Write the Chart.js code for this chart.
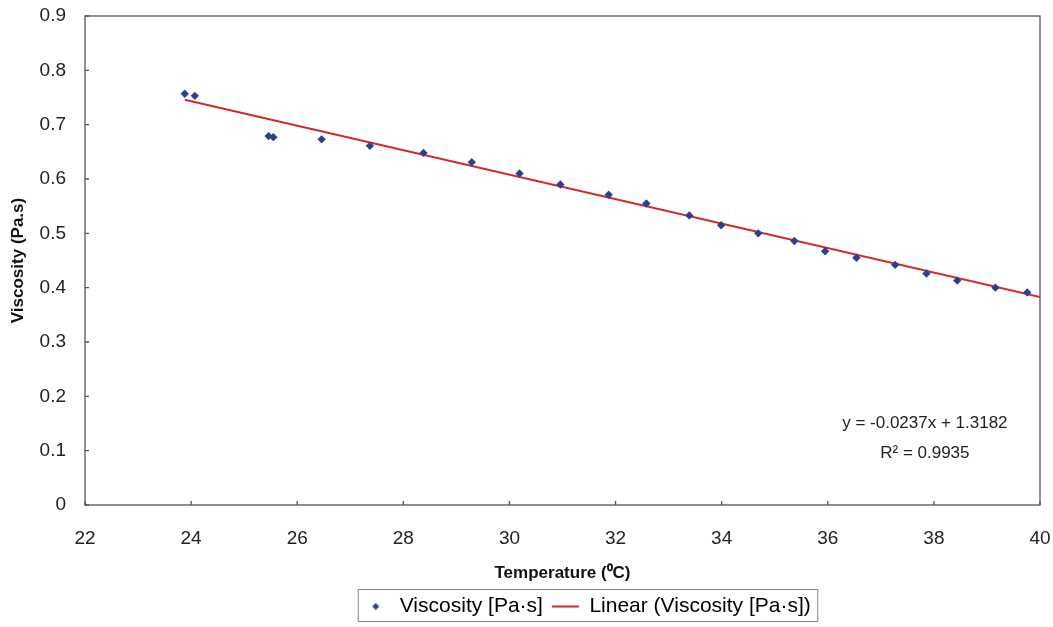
<!DOCTYPE html>
<html>
<head>
<meta charset="utf-8">
<script src="https://cdn.jsdelivr.net/npm/chart.js@4"></script>
<style>
    html, body { margin: 0; padding: 0; background: #fff; }
    #wrap { width: 1053px; height: 627px; }
</style>
</head>
<body>
<div id="wrap"><canvas id="viscChart" width="1053" height="627"></canvas></div>
<script>
// values
const temperature = [23.88, 24.07, 25.46, 25.55, 26.46, 27.37, 28.38, 29.29, 30.19, 30.96, 31.87, 32.58,
                     33.39, 33.99, 34.69, 35.37, 35.95, 36.54, 37.27, 37.86, 38.44, 39.16, 39.76];
const viscosity = [0.757, 0.753, 0.679, 0.677, 0.673, 0.661, 0.648, 0.631, 0.610, 0.590, 0.571, 0.555,
                   0.533, 0.515, 0.500, 0.486, 0.467, 0.455, 0.442, 0.426, 0.413, 0.400, 0.391];

// trendline ends as drawn in the picture
const trendX = [23.88, 40];
const trendY = [0.746, 0.383];

const equationText = ['y = -0.0237x + 1.3182', 'R² = 0.9935'];
const equationAt = { x: 37.83, y: 0.150 };

const xTicks = [22, 24, 26, 28, 30, 32, 34, 36, 38, 40];
const yTicks = [0, 0.1, 0.2, 0.3, 0.4, 0.5, 0.6, 0.7, 0.8, 0.9];

const seriesName = 'Viscosity [Pa·s]';
const trendName = 'Linear (Viscosity [Pa·s])';

const pointColor = '#2f3f8f';
const lineColor = '#d42a2a';
const fontFamily = '"Liberation Sans", Arial, sans-serif';

// little canvases used as legend symbols
function makeIcon(w, h, draw) {
    const c = document.createElement('canvas');
    c.width = w;
    c.height = h;
    draw(c.getContext('2d'), w, h);
    return c;
}
const diamondIcon = makeIcon(8, 8, (g, w, h) => {
    g.fillStyle = pointColor;
    g.beginPath();
    g.moveTo(w / 2, 0.5); g.lineTo(w - 0.5, h / 2); g.lineTo(w / 2, h - 0.5); g.lineTo(0.5, h / 2);
    g.closePath();
    g.fill();
});
const lineIcon = makeIcon(27, 4, (g, w, h) => {
    g.strokeStyle = lineColor;
    g.lineWidth = 2;
    g.beginPath();
    g.moveTo(0, h / 2); g.lineTo(w, h / 2);
    g.stroke();
});

// plot frame, inside tick marks, the equation text and the legend box
const plotExtras = {
    id: 'plotExtras',
    afterLayout(chart) {
        // legend sits a bit right of the plot centre in the picture
        chart.legend.left += 24;
        chart.legend.right += 24;
    },
    beforeDatasetsDraw(chart) {
        const { ctx, chartArea: a, scales } = chart;
        ctx.save();
        ctx.strokeStyle = '#555';
        ctx.lineWidth = 1.3;
        ctx.strokeRect(a.left, a.top, a.right - a.left, a.bottom - a.top);
        ctx.beginPath();
        xTicks.forEach(v => {
            const px = scales.x.getPixelForValue(v);
            ctx.moveTo(px, a.bottom); ctx.lineTo(px, a.bottom - 4);
        });
        yTicks.forEach(v => {
            const py = scales.y.getPixelForValue(v);
            ctx.moveTo(a.left, py); ctx.lineTo(a.left + 4, py);
        });
        ctx.stroke();
        ctx.restore();
    },
    afterDraw(chart) {
        const { ctx, scales } = chart;
        const px = scales.x.getPixelForValue(equationAt.x);
        const py = scales.y.getPixelForValue(equationAt.y);
        ctx.save();
        ctx.fillStyle = '#222';
        ctx.font = '17px ' + fontFamily;
        ctx.textAlign = 'center';
        ctx.textBaseline = 'middle';
        equationText.forEach((t, i) => ctx.fillText(t, px, py + i * 30));
        ctx.restore();

        const boxes = chart.legend.legendHitBoxes;
        if (boxes && boxes.length) {
            const l = Math.min(...boxes.map(b => b.left)) - 4;
            const r = Math.max(...boxes.map(b => b.left + b.width)) + 7;
            const mid = boxes[0].top + boxes[0].height / 2;
            ctx.save();
            ctx.strokeStyle = '#888';
            ctx.lineWidth = 1;
            ctx.strokeRect(l, mid - 17, r - l, 32);
            ctx.restore();
        }
    }
};

const ctx = document.getElementById('viscChart').getContext('2d');
const viscChart = new Chart(ctx, {
    type: 'scatter',
    data: {
        datasets: [{
            label: seriesName,
            data: temperature.map((t, i) => ({ x: t, y: viscosity[i] })),
            pointStyle: 'rectRot',
            pointRadius: 4.2,
            backgroundColor: pointColor,
            borderColor: pointColor,
            borderWidth: 0,
            order: 1
        }, {
            label: trendName,
            type: 'line',
            data: trendX.map((t, i) => ({ x: t, y: trendY[i] })),
            borderColor: lineColor,
            borderWidth: 2,
            pointRadius: 0,
            fill: false,
            order: 2
        }]
    },
    options: {
        responsive: false,
        animation: false,
        layout: { padding: 0 },
        scales: {
            x: {
                type: 'linear',
                min: 22,
                max: 40,
                afterBuildTicks: s => { s.ticks = xTicks.map(v => ({ value: v })); },
                ticks: { font: { size: 19, family: fontFamily }, color: '#222', padding: 14 },
                grid: { display: false },
                border: { display: false },
                title: {
                    display: true,
                    text: 'Temperature (⁰C)',
                    color: '#111',
                    font: { size: 17, weight: 'bold', family: fontFamily },
                    padding: { top: 4, bottom: 3 }
                },
                afterFit: s => { s.height = 82; s.paddingRight = 13; }
            },
            y: {
                min: 0,
                max: 0.9,
                afterBuildTicks: s => { s.ticks = yTicks.map(v => ({ value: v })); },
                ticks: {
                    font: { size: 19, family: fontFamily },
                    color: '#222',
                    padding: 11,
                    callback: v => String(+v.toFixed(1))
                },
                grid: { display: false },
                border: { display: false },
                title: {
                    display: true,
                    text: 'Viscosity (Pa.s)',
                    color: '#111',
                    font: { size: 17, weight: 'bold', family: fontFamily },
                    padding: { top: 8, bottom: 0 }
                },
                afterFit: s => { s.width = 85; s.paddingTop = 16; s.paddingBottom = 0; }
            }
        },
        plugins: {
            legend: {
                position: 'bottom',
                fullSize: false,
                labels: {
                    usePointStyle: true,
                    pointStyleWidth: 27,
                    padding: 9,
                    color: '#222',
                    font: { size: 21, family: fontFamily },
                    generateLabels: () => [
                        { text: seriesName, pointStyle: diamondIcon, fillStyle: pointColor, strokeStyle: pointColor, lineWidth: 0, hidden: false, datasetIndex: 0 },
                        { text: trendName, pointStyle: lineIcon, fillStyle: lineColor, strokeStyle: lineColor, lineWidth: 0, hidden: false, datasetIndex: 1 }
                    ]
                }
            },
            tooltip: { enabled: false }
        }
    },
    plugins: [plotExtras]
});
</script>
</body>
</html>
